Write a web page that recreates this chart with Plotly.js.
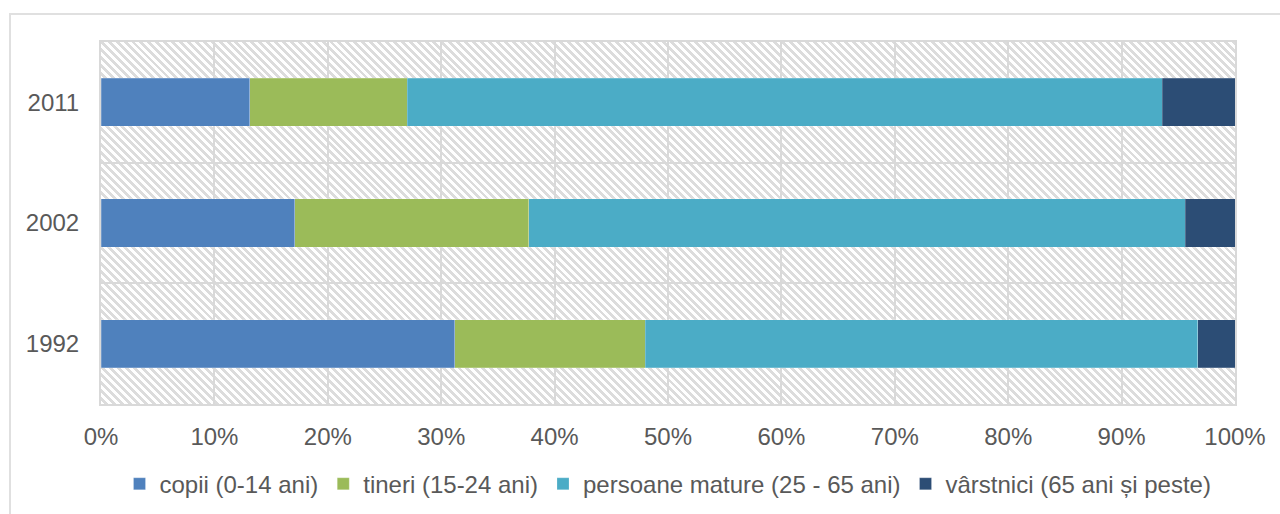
<!DOCTYPE html>
<html>
<head>
<meta charset="utf-8">
<script src="https://cdn.plot.ly/plotly-3.0.1.min.js"></script>
<style>
  html, body { margin: 0; padding: 0; background: #fff; overflow: hidden; }
  #wrap { position: relative; width: 1280px; height: 514px; }
  #frame { position: absolute; left: 9px; top: 13px; width: 1400px; height: 600px;
           border: 2px solid #e0e0e0; box-sizing: border-box; }
  #hatch { position: absolute; left: 101px; top: 42px; width: 1134px; height: 362px;
           background: repeating-linear-gradient(45deg, #ffffff 0px, #ffffff 2.8px, #dcdcdc 2.8px, #dcdcdc 5.6px); }
  #chart { position: absolute; left: 0; top: 0; width: 1280px; height: 514px; }
</style>
</head>
<body>
<div id="wrap">
  <div id="frame"></div>
  <div id="hatch"></div>
  <div id="chart"></div>
</div>
<script>
const years = ['1992', '2002', '2011'];
const seriesNames = ['copii (0-14 ani)', 'tineri (15-24 ani)', 'persoane mature (25 - 65 ani)', 'vârstnici (65 ani și peste)'];
const copii = [31.2, 17.1, 13.1];
const tineri = [16.8, 20.6, 13.9];
const mature = [48.7, 57.9, 66.6];
const varstnici = [3.3, 4.4, 6.4];
const xTicks = [0, 10, 20, 30, 40, 50, 60, 70, 80, 90, 100];

const colors = ['#4F81BD', '#9BBB59', '#4BACC6', '#2C4D75'];
const values = [copii, tineri, mature, varstnici];

const traces = values.map((v, i) => ({
  type: 'bar',
  orientation: 'h',
  name: seriesNames[i],
  y: years,
  x: v,
  marker: { color: colors[i], line: { width: 0.6, color: 'rgba(255,255,255,0.35)' } },
  hoverinfo: 'x+name'
}));

const family = '"Liberation Sans", Arial, sans-serif';
const tickFont = { family: family, size: 24, color: '#595959' };
const legendFont = { family: family, size: 24, color: '#595959' };

const layout = {
  width: 1280, height: 514,
  margin: { l: 101, r: 45, t: 42, b: 110, autoexpand: false },
  barmode: 'stack',
  bargap: 0.6,
  paper_bgcolor: 'rgba(0,0,0,0)',
  plot_bgcolor: 'rgba(0,0,0,0)',
  font: tickFont,
  showlegend: true,
  legend: {
    orientation: 'h', x: 0.5, xanchor: 'center',
    yref: 'container', y: 0.058, yanchor: 'middle',
    font: legendFont, traceorder: 'normal', itemwidth: 30
  },
  xaxis: {
    range: [0, 100],
    tickvals: xTicks,
    ticktext: xTicks.map(t => t + '%'),
    showgrid: true, gridcolor: '#d9d9d9', gridwidth: 2,
    showline: true, linecolor: '#d9d9d9', linewidth: 2, mirror: true,
    zeroline: false, ticks: '', ticklabelstandoff: 10,
    automargin: false, fixedrange: true
  },
  yaxis: {
    type: 'category',
    categoryorder: 'array', categoryarray: years,
    tickson: 'boundaries',
    showgrid: true, gridcolor: '#d9d9d9', gridwidth: 2,
    showline: true, linecolor: '#d9d9d9', linewidth: 2, mirror: true,
    zeroline: false, ticks: '', ticklabelstandoff: 15,
    automargin: false, fixedrange: true
  }
};

Plotly.newPlot('chart', traces, layout, { displayModeBar: false, staticPlot: true });
</script>
</body>
</html>
